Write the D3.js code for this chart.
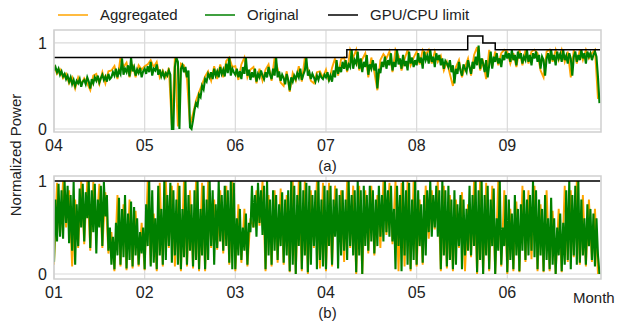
<!DOCTYPE html>
<html>
<head>
<meta charset="utf-8">
<script src="https://cdn.jsdelivr.net/npm/d3@7"></script>
<style>
  body { margin: 0; background: #fff; }
  text { font-family: "Liberation Sans", Arial, sans-serif; fill: #222; }
</style>
</head>
<body>
<div id="chart"></div>
<script>
// panel (a): Apr - Sep, original sampled twice a day, aggregated daily
var topMonths = ["04", "05", "06", "07", "08", "09"];
var topOriginal = [
  .68,.72,.66,.70,.63,.67,.61,.64,.58,.62,.55,.60,.52,.57,.50,.56,.53,.58,.49,.55,
  .57,.52,.60,.55,.47,.58,.53,.60,.56,.62,.54,.59,.63,.57,.61,.55,.64,.58,.60,.66,
  .62,.70,.60,.68,.64,.82,.63,.70,.66,.74,.61,.83,.67,.72,.62,.69,.65,.71,.60,.67,
  .70,.64,.73,.66,.78,.62,.70,.68,.75,.63,.69,.61,.66,.60,.65,.62,.68,.63,.00,.00,
  .72,.83,.78,.00,.70,.74,.66,.72,.60,.68,.02,.00,.10,.22,.30,.27,.40,.37,.50,.46,
  .58,.55,.64,.60,.66,.58,.70,.62,.67,.60,.72,.64,.69,.61,.76,.65,.83,.62,.70,.66,
  .63,.70,.60,.67,.58,.72,.64,.83,.62,.69,.57,.66,.60,.70,.55,.64,.60,.68,.62,.58,
  .66,.60,.72,.63,.58,.70,.62,.83,.60,.67,.56,.63,.59,.52,.64,.57,.45,.60,.55,.62,
  .58,.65,.60,.70,.57,.63,.68,.83,.62,.66,.58,.64,.60,.55,.62,.57,.64,.60,.58,.63,
  .60,.66,.57,.62,.55,.68,.60,.80,.64,.72,.66,.78,.70,.80,.68,.75,.72,.92,.70,.80,
  .76,.90,.70,.82,.66,.78,.72,.86,.63,.75,.70,.80,.68,.76,.47,.70,.65,.78,.72,.84,
  .70,.80,.74,.88,.68,.78,.72,.92,.75,.82,.70,.86,.73,.79,.68,.90,.76,.83,.72,.80,
  .74,.88,.77,.83,.70,.90,.80,.85,.76,.92,.78,.84,.72,.88,.80,.86,.74,.82,.70,.79,
  .76,.72,.80,.66,.74,.53,.70,.64,.78,.68,.62,.75,.70,.66,.80,.72,.64,.78,.70,.84,
  .74,.97,.70,.82,.76,.66,.80,.60,.74,.90,.70,.84,.78,.88,.76,.82,.72,.86,.80,.90,
  .82,.88,.78,.92,.80,.86,.74,.90,.82,.88,.76,.84,.80,.92,.78,.86,.74,.88,.82,.90,
  .78,.86,.70,.84,.80,.62,.82,.88,.76,.92,.80,.86,.74,.90,.82,.87,.78,.92,.80,.85,
  .76,.88,.82,.62,.84,.90,.78,.86,.80,.92,.82,.88,.76,.90,.84,.88,.80,.86,.90,.84,
  .60,.30
];
var topAggregated = [
  .74,.64,.69,.59,.64,.53,.60,.47,.60,.52,
  .59,.53,.45,.62,.64,.52,.66,.53,.67,.68,
  .73,.58,.83,.72,.77,.60,.75,.60,.74,.69,
  .73,.75,.80,.72,.78,.60,.68,.60,.71,.04,
  .83,.03,.76,.74,.58,.04,.18,.33,.43,.52,
  .61,.67,.56,.73,.58,.75,.60,.79,.83,.72,
  .73,.57,.75,.83,.60,.69,.72,.53,.70,.56,
  .69,.75,.56,.83,.70,.54,.50,.67,.43,.65,
  .56,.73,.55,.83,.69,.56,.53,.66,.67,.60,
  .69,.55,.71,.82,.62,.81,.83,.66,.92,.83,
  .92,.68,.81,.88,.60,.83,.66,.45,.80,.87,
  .82,.90,.66,.92,.85,.68,.81,.92,.74,.83,
  .90,.75,.92,.87,.92,.76,.90,.78,.85,.68,
  .78,.64,.50,.72,.80,.60,.72,.82,.62,.86,
  .95,.68,.78,.58,.92,.72,.90,.74,.88,.92,
  .90,.76,.88,.72,.92,.74,.92,.76,.90,.92,
  .88,.68,.60,.90,.92,.78,.92,.80,.92,.78,
  .90,.60,.92,.76,.92,.80,.92,.82,.88,.92,
  .35
];
// limit as steps: day where each level starts
var topLimitDay = [0, 96.9, 136.9, 141.9, 146.0, 180.7];
var topLimitLevel = [0.83, 0.92, 1.08, 1.0, 0.92, 0.92];

// panel (b): Jan - Jun
var bottomMonths = ["01", "02", "03", "04", "05", "06"];
var bottomOriginal = [
  .13,.80,.35,.97,.40,.90,.38,1.0,.55,.95,.33,.85,.25,.99,.10,.75,.30,.92,.50,.97,
  .35,.88,.60,1.0,.28,.90,.45,.97,.22,.80,.50,.95,.30,.99,.62,.85,.25,.50,.10,.40,
  .05,.55,.20,.82,.10,.70,.18,.85,.06,.65,.15,.78,.08,.72,.20,.60,.10,.45,.22,.50,
  .05,.75,.30,1.0,.08,.90,.12,.60,.05,.95,.20,.70,.10,1.0,.15,.85,.30,.98,.12,.90,
  .20,.80,.10,.95,.05,.70,.18,1.0,.10,.85,.25,.75,.08,.90,.15,1.0,.05,.70,.20,.95,
  .05,.80,.15,1.0,.30,.90,.10,.75,.28,1.0,.35,.85,.25,.95,.30,.90,.12,1.0,.05,.98,
  .05,.60,.20,.70,.15,.50,.25,.65,.10,.55,.45,.95,.50,.85,.40,.98,.55,.90,.42,.95,
  .05,1.0,.20,.80,.10,.90,.25,.85,.15,.75,.30,.88,.12,.80,.20,.90,.03,1.0,.10,.95,
  .00,.85,.30,1.0,.05,.90,.20,.98,.02,.95,.10,.85,.30,.90,.05,1.0,.15,.80,.08,.95,
  .05,.90,.30,.95,.10,.80,.40,.92,.06,.85,.20,.90,.25,.80,.15,1.0,.30,.85,.20,.90,
  .02,1.0,.20,.90,.00,.95,.30,.85,.25,.95,.35,.90,.22,.80,.30,.95,.40,.85,.35,1.0,
  .45,.90,.40,.95,.35,.70,.05,.95,.30,.85,.03,1.0,.20,.90,.10,.98,.05,.80,.15,1.0,
  .10,.90,.30,.75,.12,.85,.20,.90,.45,1.0,.40,.85,.50,.95,.40,.90,.05,1.0,.20,.90,
  .08,.95,.15,.80,.05,.90,.10,.75,.30,.85,.05,.80,.20,.70,.25,.95,.20,.85,.30,1.0,
  .02,.90,.15,1.0,.00,.85,.20,.95,.05,.80,.30,.92,.00,.60,.25,1.0,.10,.50,.30,.85,
  .02,.80,.15,.65,.05,.85,.20,.70,.03,.75,.25,.90,.15,.80,.20,.85,.25,1.0,.18,.90,
  .05,.80,.20,.70,.03,.85,.15,.60,.05,.82,.10,.60,.00,.50,.20,.65,.03,.55,.10,.90,
  .15,1.0,.05,.85,.20,.95,.10,1.0,.12,.80,.20,.60,.10,.75,.30,.70,.15,.65,.08,.60,
  .20,.00
];
var bottomAggregated = [
  .10,.98,.42,1.0,.50,.90,.08,.80,.28,1.0,
  .32,1.0,.25,.99,.47,.97,.28,.88,.22,.45,
  .03,.85,.08,.75,.04,.80,.06,.68,.08,.55,
  .04,1.0,.10,.65,.03,.98,.08,1.0,.28,.95,
  .08,.98,.03,1.0,.08,.90,.06,1.0,.03,.98,
  .03,1.0,.28,.80,.26,.90,.22,.95,.10,1.0,
  .03,.75,.12,.70,.08,.60,.50,.90,.52,1.0,
  .03,.85,.08,.90,.12,.92,.10,.85,.02,1.0,
  .00,1.0,.03,1.0,.00,.90,.28,1.0,.06,.98,
  .03,.98,.08,.95,.38,.90,.13,1.0,.28,.95,
  .00,.95,.00,.90,.22,.95,.20,.85,.28,1.0,
  .42,.98,.32,1.0,.03,.98,.08,1.0,.03,1.0,
  .08,.80,.10,.95,.38,.90,.48,1.0,.03,.95,
  .06,.85,.03,.80,.28,.88,.03,.75,.18,1.0,
  .00,1.0,.00,.98,.03,.95,.00,1.0,.08,.90,
  .00,.70,.03,.78,.02,.95,.13,.90,.16,.95,
  .03,.75,.02,.90,.03,.68,.00,.70,.02,.95,
  .13,.90,.18,1.0,.10,.85,.08,.80,.13,.70,
  .00
];
var bottomLimitDay = [0, 180.7];
var bottomLimitLevel = [1.0, 1.0];

var monthTickDays = [0, 30, 60, 90, 120, 150];

var width = 623, height = 322;
var left = 54, right = 601;
var tickSize = "16px", labelSize = "15px";
var aggColor = "#ffa500", origColor = "#008000", limitColor = "#000";

var svg = d3.select("#chart").append("svg")
  .attr("width", width)
  .attr("height", height);

var x = d3.scaleLinear().domain([0, 181]).range([left, right]);

function drawPanel(cfg) {
  var y = d3.scaleLinear().domain(cfg.yDomain).range([cfg.bottom, cfg.top]);
  var g = svg.append("g");

  // grid
  g.selectAll(".vgrid").data(monthTickDays).enter().append("line")
    .attr("x1", function (d) { return x(d); })
    .attr("x2", function (d) { return x(d); })
    .attr("y1", cfg.top).attr("y2", cfg.bottom)
    .attr("stroke", "#dadada").attr("stroke-width", 1.2);
  g.selectAll(".hgrid").data([0, 1]).enter().append("line")
    .attr("x1", left).attr("x2", right)
    .attr("y1", function (d) { return y(d); })
    .attr("y2", function (d) { return y(d); })
    .attr("stroke", "#dadada").attr("stroke-width", 1.2);

  var clipId = "clip" + cfg.name;
  svg.append("clipPath").attr("id", clipId).append("rect")
    .attr("x", left).attr("y", cfg.top)
    .attr("width", right - left).attr("height", cfg.bottom - cfg.top);

  var plot = g.append("g").attr("clip-path", "url(#" + clipId + ")");

  var lineAgg = d3.line()
    .x(function (d, i) { return x(i); })
    .y(function (d) { return y(d); });
  var lineOrig = d3.line()
    .x(function (d, i) { return x(i * 0.5); })
    .y(function (d) { return y(d); });
  var lineLimit = d3.line()
    .curve(d3.curveStepAfter)
    .x(function (d, i) { return x(cfg.limitDay[i]); })
    .y(function (d) { return y(d); });

  plot.append("path").attr("d", lineAgg(cfg.agg))
    .attr("fill", "none").attr("stroke", aggColor).attr("stroke-width", 1.9);
  plot.append("path").attr("d", lineOrig(cfg.orig))
    .attr("fill", "none").attr("stroke", origColor).attr("stroke-width", 2.1);
  plot.append("path").attr("d", lineLimit(cfg.limitLevel))
    .attr("fill", "none").attr("stroke", limitColor).attr("stroke-width", 1.5);

  // frame
  g.append("rect")
    .attr("x", left).attr("y", cfg.top)
    .attr("width", right - left).attr("height", cfg.bottom - cfg.top)
    .attr("fill", "none").attr("stroke", "#cfcfcf").attr("stroke-width", 1.5);

  // tick labels
  g.selectAll(".xt").data(cfg.months).enter().append("text")
    .attr("x", function (d, i) { return x(monthTickDays[i]); })
    .attr("y", cfg.bottom + 19)
    .attr("text-anchor", "middle")
    .style("font-size", tickSize)
    .text(function (d) { return d; });
  g.selectAll(".yt").data([0, 1]).enter().append("text")
    .attr("x", left - 7)
    .attr("y", function (d) { return y(d); })
    .attr("dy", "0.35em")
    .attr("text-anchor", "end")
    .style("font-size", tickSize)
    .text(function (d) { return d; });

  g.append("text")
    .attr("x", (left + right) / 2)
    .attr("y", cfg.bottom + 39)
    .attr("text-anchor", "middle")
    .style("font-size", labelSize)
    .text(cfg.caption);
}

drawPanel({
  name: "a", top: 30, bottom: 132, yDomain: [-0.035, 1.15],
  months: topMonths, orig: topOriginal, agg: topAggregated,
  limitDay: topLimitDay, limitLevel: topLimitLevel, caption: "(a)"
});
drawPanel({
  name: "b", top: 176, bottom: 279, yDomain: [-0.054, 1.054],
  months: bottomMonths, orig: bottomOriginal, agg: bottomAggregated,
  limitDay: bottomLimitDay, limitLevel: bottomLimitLevel, caption: "(b)"
});

svg.append("text")
  .attr("x", 573).attr("y", 303)
  .style("font-size", labelSize)
  .text("Month");

svg.append("text")
  .attr("transform", "translate(21,155) rotate(-90)")
  .attr("text-anchor", "middle")
  .style("font-size", labelSize)
  .text("Normalized Power");

// legend
var legendItems = [
  { label: "Aggregated", color: aggColor, x: 58 },
  { label: "Original", color: origColor, x: 205 },
  { label: "GPU/CPU limit", color: limitColor, x: 328 }
];
var legend = svg.selectAll(".legend").data(legendItems).enter().append("g")
  .attr("transform", function (d) { return "translate(" + d.x + ",15)"; });
legend.append("line")
  .attr("x1", 0).attr("x2", 30)
  .attr("stroke", function (d) { return d.color; })
  .attr("stroke-width", 1.5);
legend.append("text")
  .attr("x", 42).attr("dy", "0.35em")
  .style("font-size", labelSize)
  .text(function (d) { return d.label; });
</script>
</body>
</html>
